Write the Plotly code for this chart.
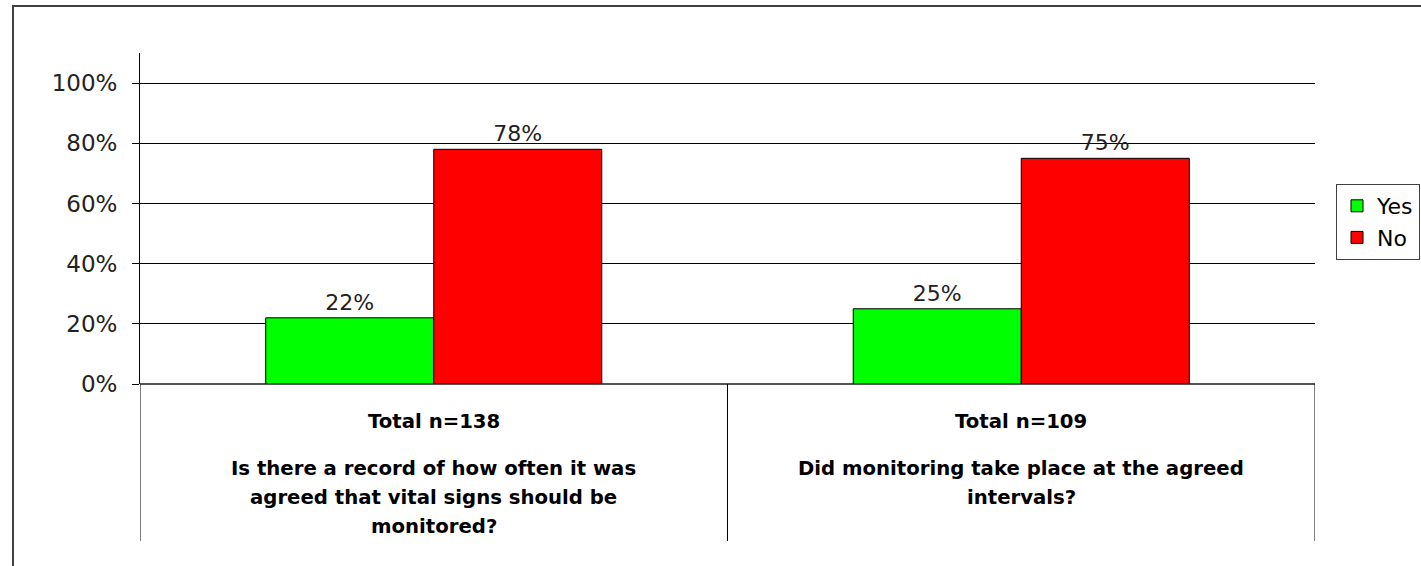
import plotly.graph_objects as go

# Survey questions (x categories) and answer shares in percent
totals = ["Total n=138", "Total n=109"]
questions = [
    ["Is there a record of how often it was",
     "agreed that vital signs should be",
     "monitored?"],
    ["Did monitoring take place at the agreed",
     "intervals?"],
]
yes_pct = [22, 25]
no_pct = [78, 75]
y_ticks = [0, 20, 40, 60, 80, 100]
y_tick_text = [f"{v}%" for v in y_ticks]

W, H = 1421, 566
ML, MR, MT, MB = 140, 106, 53, 182
PW, PH = W - ML - MR, H - MT - MB

cats = [0, 1]
font_family = "DejaVu Sans"

fig = go.Figure()
fig.add_trace(go.Bar(
    x=cats, y=yes_pct, name="Yes",
    marker=dict(color="#00ff00", line=dict(color="#000000", width=1)),
    text=[f"{v}%" for v in yes_pct], textposition="outside",
    textfont=dict(size=22, color="#222222", family=font_family),
    cliponaxis=False,
))
fig.add_trace(go.Bar(
    x=cats, y=no_pct, name="No",
    marker=dict(color="#ff0000", line=dict(color="#000000", width=1)),
    text=[f"{v}%" for v in no_pct], textposition="outside",
    textfont=dict(size=22, color="#222222", family=font_family),
    cliponaxis=False,
))

def py(pixel_y):
    # convert a page pixel row to paper y
    return (H - MB - pixel_y) / PH

def px(pixel_x):
    return (pixel_x - ML) / PW

shapes = []
# category dividers below the axis
for xv in [-0.5, 0.5, 1.5]:
    shapes.append(dict(type="line", xref="x", yref="paper", x0=xv, x1=xv,
                       y0=0, y1=py(541), line=dict(color="#000000", width=1)))
# outer chart frame
shapes.append(dict(type="rect", xref="paper", yref="paper",
                   x0=px(13), x1=px(1425), y0=py(572), y1=py(6),
                   line=dict(color="#404040", width=2), layer="below"))

label_size = 19.7
annotations = []
for i in cats:
    annotations.append(dict(
        x=i, xref="x", y=py(421), yref="paper", yanchor="middle",
        text=f"<b>{totals[i]}</b>", showarrow=False,
        font=dict(size=label_size, color="#000000", family=font_family)))
    for j, line in enumerate(questions[i]):
        annotations.append(dict(
            x=i, xref="x", y=py(468 + 29 * j), yref="paper", yanchor="middle",
            text=f"<b>{line}</b>", showarrow=False,
            font=dict(size=label_size, color="#000000", family=font_family)))

fig.update_layout(
    width=W, height=H,
    margin=dict(l=ML, r=MR, t=MT, b=MB, autoexpand=False),
    paper_bgcolor="white", plot_bgcolor="white",
    barmode="group", bargap=0.428, bargroupgap=0,
    font=dict(family=font_family, color="#222222"),
    showlegend=True,
    legend=dict(x=px(1336), y=py(184), xanchor="left", yanchor="top",
                bordercolor="#404040", borderwidth=1, bgcolor="white",
                font=dict(size=22, color="#000000", family=font_family),
                itemwidth=30, tracegroupgap=0),
    xaxis=dict(range=[-0.5, 1.5], showticklabels=False, ticks="",
               showgrid=False, zeroline=False, showline=False, fixedrange=True),
    yaxis=dict(range=[0, 110], tickvals=y_ticks, ticktext=y_tick_text,
               ticks="outside", ticklen=7, tickcolor="#000000",
               ticklabelstandoff=10,
               tickfont=dict(size=23, color="#222222", family=font_family),
               showgrid=True, gridcolor="#000000", gridwidth=1,
               zeroline=True, zerolinecolor="#555555", zerolinewidth=2,
               showline=True, linecolor="#000000", linewidth=1, fixedrange=True),
    shapes=shapes, annotations=annotations,
)

fig.write_html("out.html")
